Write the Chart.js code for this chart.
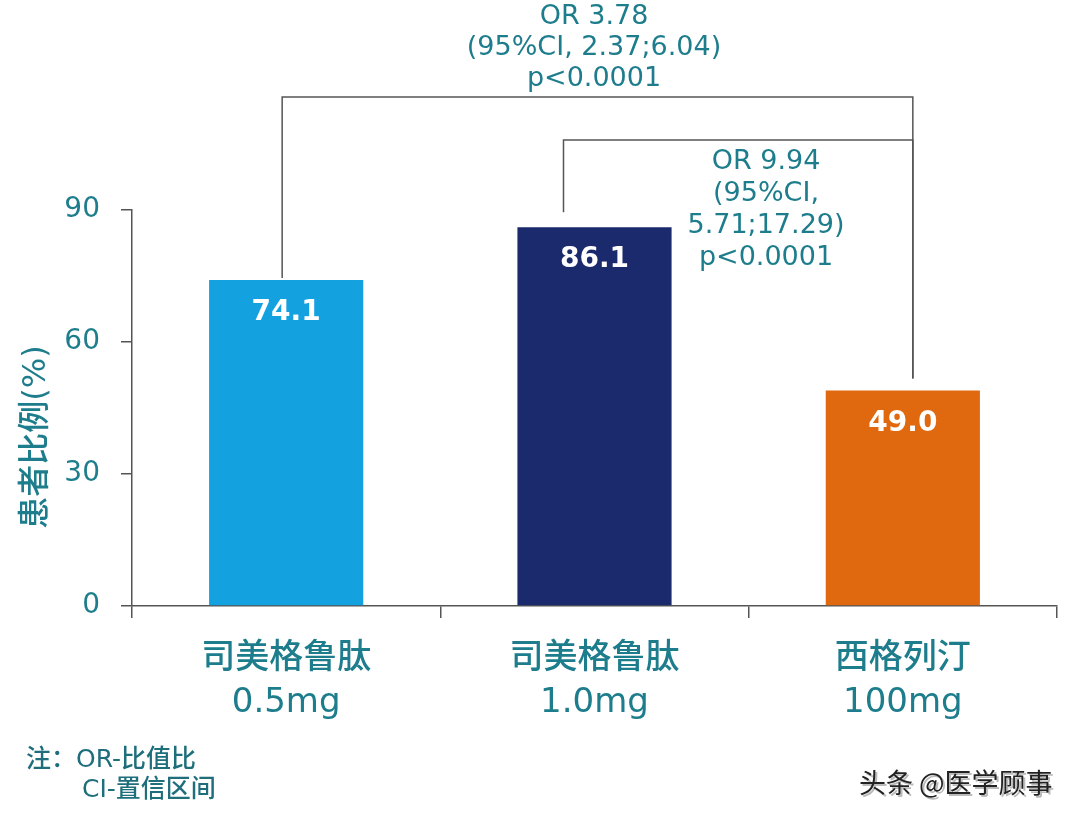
<!DOCTYPE html>
<html>
<head>
<meta charset="utf-8">
<script src="https://cdn.jsdelivr.net/npm/chart.js@4"></script>
<style>
  body { margin: 0; background: #fff; }
  #wrap { width: 1080px; height: 820px; }
</style>
</head>
<body>
<div id="wrap"><canvas id="chartBar" width="1080" height="820"></canvas></div>
<script>
// data
const categories = [["司美格鲁肽", "0.5mg"], ["司美格鲁肽", "1.0mg"], ["西格列汀", "100mg"]];
const values = [74.1, 86.1, 49.0];
const barColors = ["#13a1e0", "#1b2a6c", "#e0690f"];
const yTicks = [0, 30, 60, 90];
const yTitle = "患者比例(%)";
// comparisons: [from bar, to bar], bracket level (axis units), text lines
const compPairs = [[0, 2], [1, 2]];
const compLevels = [115.7, 105.9];
const compText1 = ["OR 3.78", "(95%CI, 2.37;6.04)", "p<0.0001"];
const compText2 = ["OR 9.94", "(95%CI,", "5.71;17.29)", "p<0.0001"];
const noteLines = ["注：OR-比值比", "CI-置信区间"];
const watermark = "头条 @医学顾事";

const teal = "#1e7d8c";
const axisGray = "#555";
const latin = "'DejaVu Sans', 'Noto Sans CJK SC', sans-serif";

// Tulisan & garis tambahan di atas grafik
const extras = {
  id: "extras",
  afterDatasetsDraw(chart) {
    const ctx = chart.ctx;
    const y = chart.scales.y;
    const bars = chart.getDatasetMeta(0).data;

    // angka di dalam batang
    ctx.save();
    ctx.fillStyle = "#fff";
    ctx.font = "bold 28px " + latin;
    ctx.textAlign = "center";
    ctx.textBaseline = "middle";
    bars.forEach(function (b, i) {
      ctx.fillText(values[i].toFixed(1), b.x, b.y + 33);
    });
    ctx.restore();

    // kurung perbandingan
    const legX = [-4, -31, 10];
    const legGap = [2, 15, 12];
    ctx.save();
    ctx.strokeStyle = axisGray;
    ctx.lineWidth = 1.5;
    compPairs.forEach(function (p, k) {
      const top = y.getPixelForValue(compLevels[k]);
      const a = bars[p[0]], b = bars[p[1]];
      const x1 = a.x + legX[p[0]], x2 = b.x + legX[p[1]];
      ctx.beginPath();
      ctx.moveTo(x1, a.y - legGap[p[0]]);
      ctx.lineTo(x1, top);
      ctx.lineTo(x2, top);
      ctx.lineTo(x2, b.y - legGap[p[1]]);
      ctx.stroke();
    });
    ctx.restore();

    // teks OR
    ctx.save();
    ctx.fillStyle = teal;
    ctx.font = "27px " + latin;
    ctx.textAlign = "center";
    ctx.textBaseline = "middle";
    compText1.forEach(function (t, i) { ctx.fillText(t, 594, 17 + i * 31); });
    compText2.forEach(function (t, i) { ctx.fillText(t, 766, 162 + i * 32); });

    // judul sumbu y
    ctx.save();
    ctx.translate(37, 437);
    ctx.rotate(-Math.PI / 2);
    ctx.font = "500 32px " + latin;
    ctx.fillText(yTitle, 0, 0);
    ctx.restore();

    // catatan
    ctx.fillStyle = "#1f6e7c";
    ctx.font = "500 25px " + latin;
    ctx.textAlign = "left";
    ctx.fillText(noteLines[0], 26, 760);
    ctx.fillText(noteLines[1], 82, 790);

    // watermark
    ctx.font = "27px 'Noto Sans CJK SC', sans-serif";
    ctx.fillStyle = "#bbb";
    ctx.fillText(watermark, 861, 785);
    ctx.fillStyle = "#222";
    ctx.fillText(watermark, 859, 783);
    ctx.restore();
  }
};

new Chart(document.getElementById("chartBar").getContext("2d"), {
  type: "bar",
  data: {
    labels: categories,
    datasets: [{
      data: values,
      backgroundColor: barColors,
      barPercentage: 0.5,
      categoryPercentage: 1.0
    }]
  },
  options: {
    responsive: false,
    animation: false,
    layout: { padding: { top: 210, right: 23, left: 0, bottom: 0 } },
    plugins: { legend: { display: false }, tooltip: { enabled: false } },
    scales: {
      x: {
        afterFit: function (s) { s.height = 214; },
        grid: { drawOnChartArea: false, tickLength: 12, color: axisGray, lineWidth: 1.5 },
        border: { color: axisGray, width: 1.5 },
        ticks: { color: teal, padding: 20, font: { size: 34, family: latin, weight: "500", lineHeight: 1.27 } }
      },
      y: {
        min: 0,
        max: 90,
        afterFit: function (s) { s.width = 132; },
        afterBuildTicks: function (s) { s.ticks = yTicks.map(function (v) { return { value: v }; }); },
        grid: { drawOnChartArea: false, tickLength: 11, color: axisGray, lineWidth: 1.5 },
        border: { color: axisGray, width: 1.5 },
        ticks: { color: teal, padding: 21, font: { size: 28, family: latin } }
      }
    }
  },
  plugins: [extras]
});
</script>
</body>
</html>
